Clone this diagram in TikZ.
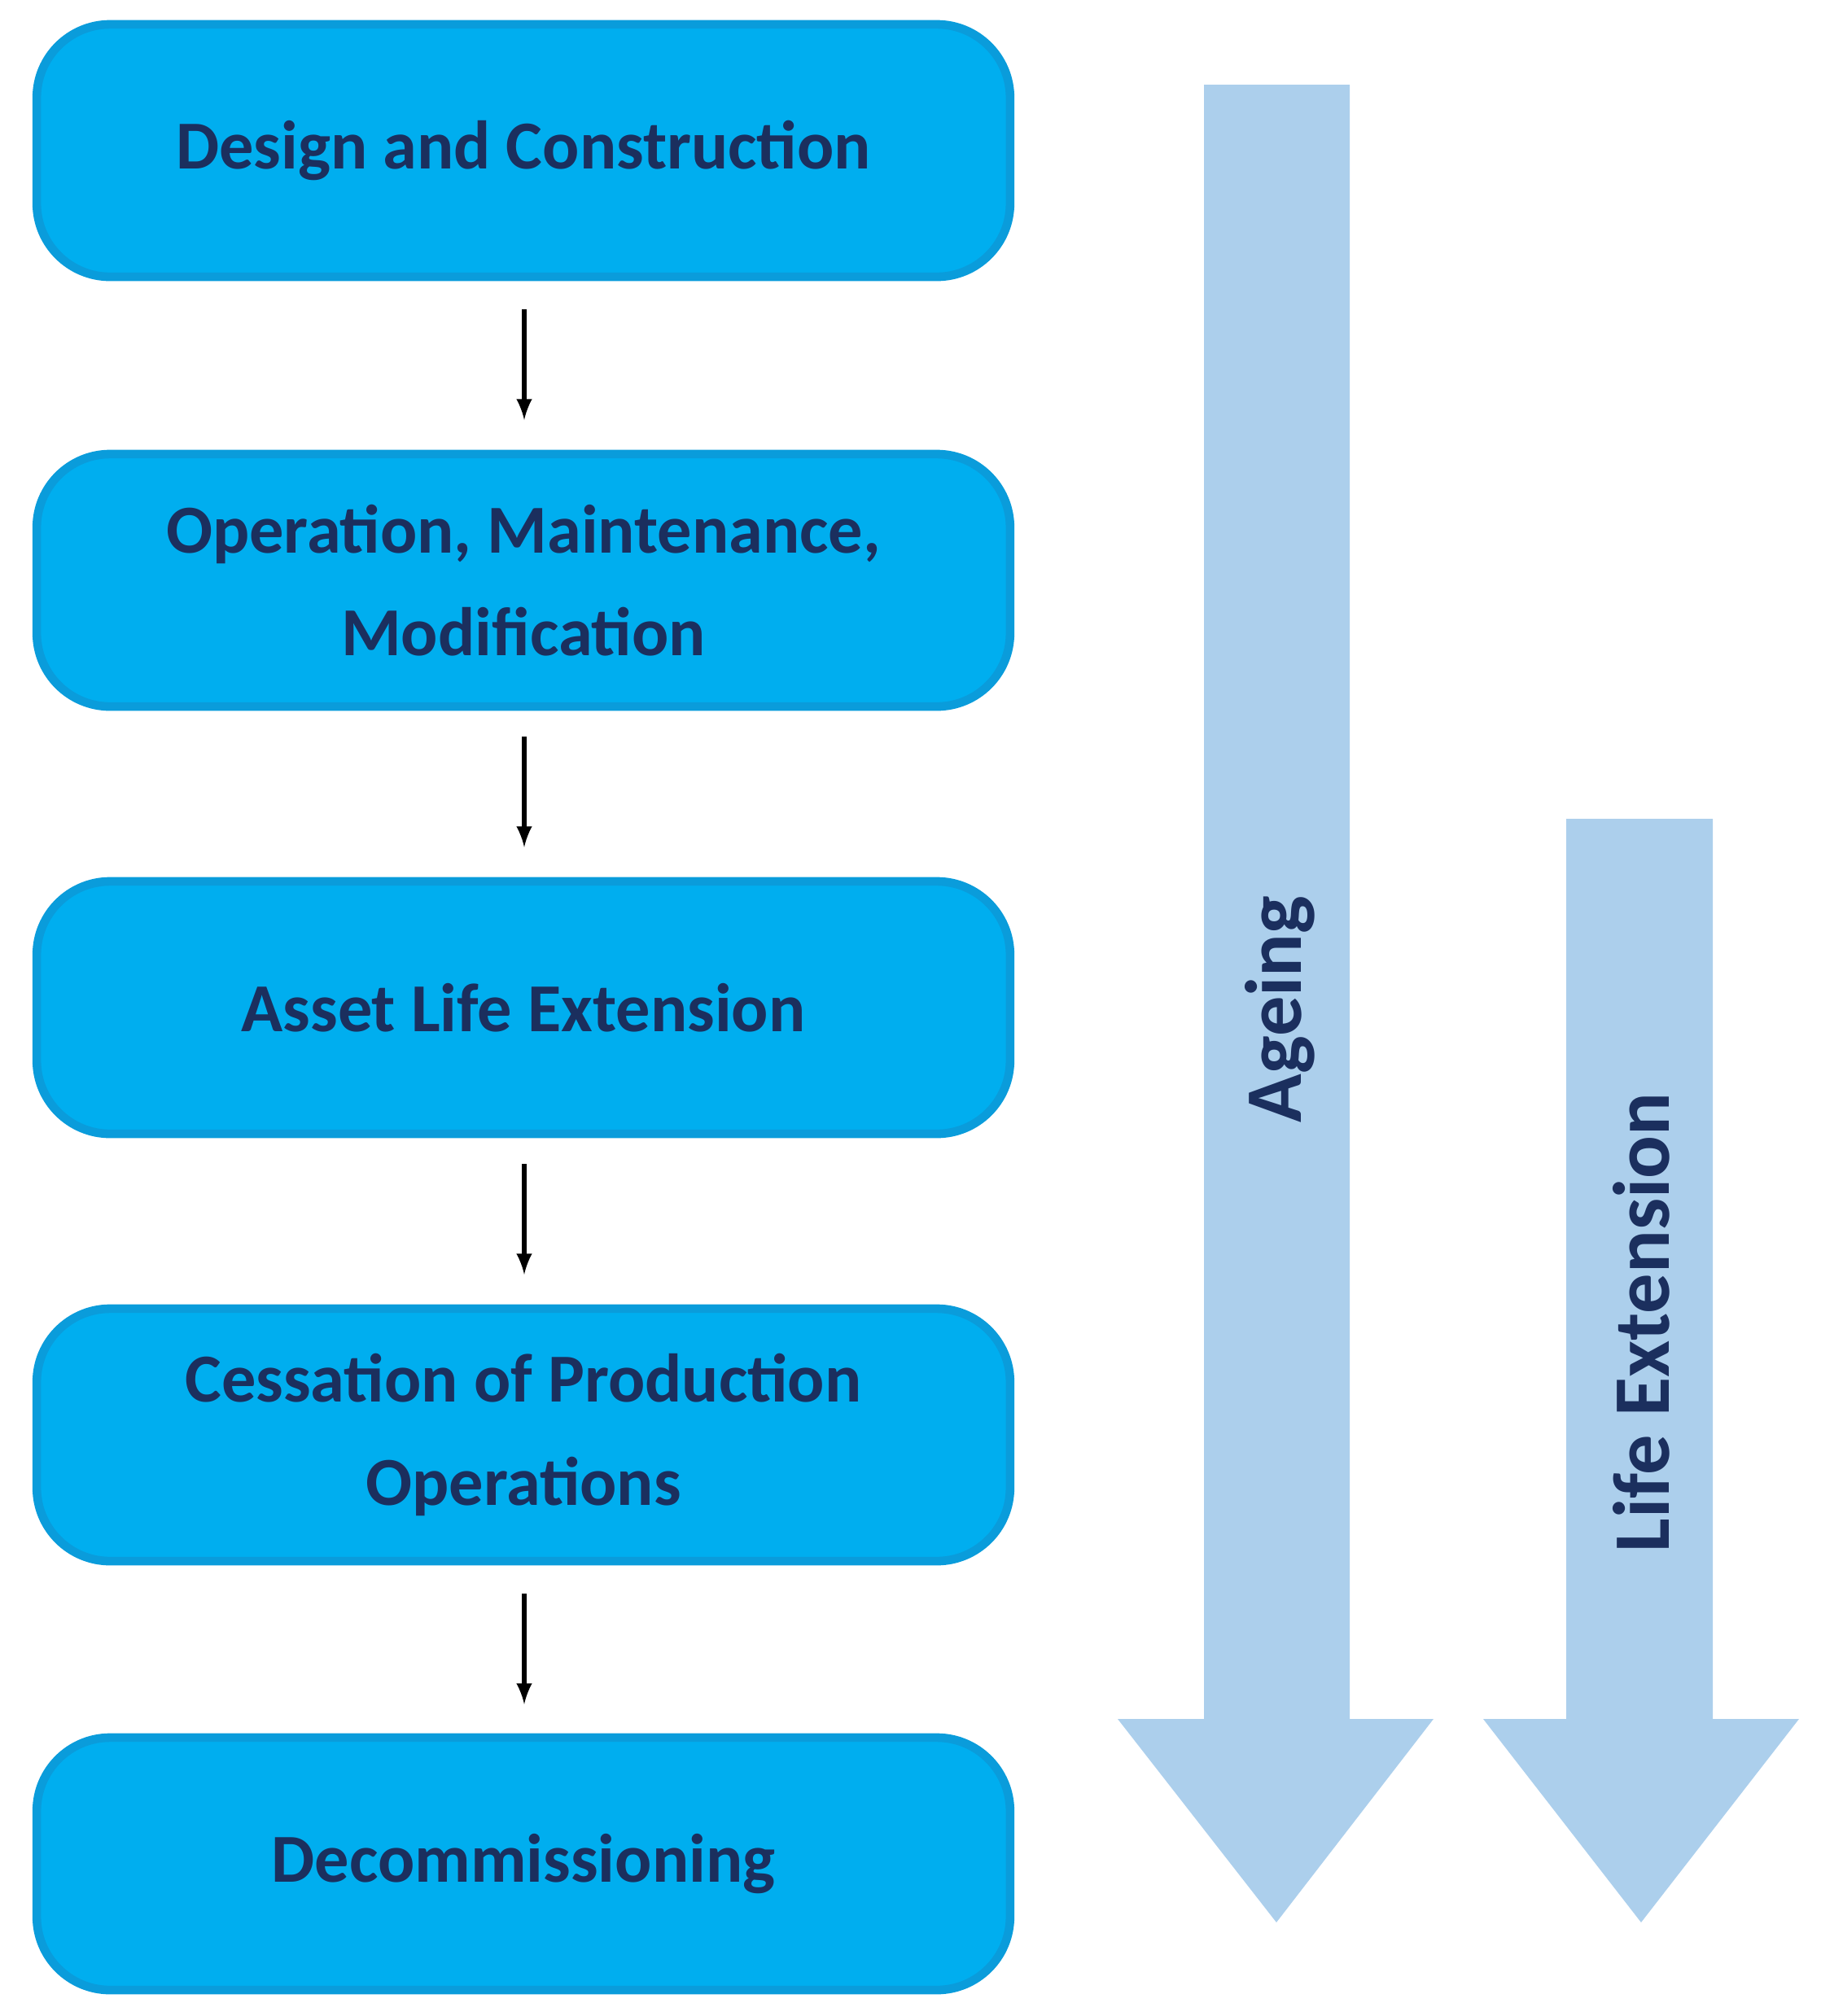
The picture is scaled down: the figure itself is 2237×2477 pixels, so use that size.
\documentclass[tikz,border=0pt]{standalone}
\usepackage{fontspec}
\setmainfont{Carlito}
\begin{document}
\begin{tikzpicture}[x=0.01cm,y=-0.01cm,
  box/.style={draw=boxedge,line width=3pt,fill=boxfill,rounded corners=0.9cm,minimum width=11.95cm,minimum height=3.1cm,align=center,font=\fontsize{24}{36}\selectfont\bfseries,text=navy},
  conn/.style={-latex,line width=1.5pt},
  big/.style={fill=lightarrow}]
\definecolor{boxfill}{HTML}{00AEEF}
\definecolor{boxedge}{HTML}{0A9CDB}
\definecolor{navy}{HTML}{1B2F5E}
\definecolor{lightarrow}{HTML}{ACCFEC}
\useasboundingbox (0,0) rectangle (2237,2477);
\node[box] (b1) at (643,185) {Design and Construction};
\node[box] (b2) at (643,713) {Operation, Maintenance,\\Modification};
\node[box] (b3) at (643,1238) {Asset Life Extension};
\node[box] (b4) at (643,1763) {Cessation of Production\\Operations};
\node[box] (b5) at (643,2290) {Decommissioning};
\coordinate (s1) at (644,380); \coordinate (e1) at (644,516);
\coordinate (s2) at (644,905); \coordinate (e2) at (644,1041);
\coordinate (s3) at (644,1430); \coordinate (e3) at (644,1566);
\coordinate (s4) at (644,1958); \coordinate (e4) at (644,2094);
\draw[conn] (s1) -- (e1);
\draw[conn] (s2) -- (e2);
\draw[conn] (s3) -- (e3);
\draw[conn] (s4) -- (e4);
\fill[big] (1479,104) -- (1658,104) -- (1658,2112) -- (1761,2112) -- (1568,2362) -- (1373,2112) -- (1479,2112) -- cycle;
\fill[big] (1924,1006) -- (2104,1006) -- (2104,2112) -- (2210,2112) -- (2016,2362) -- (1822,2112) -- (1924,2112) -- cycle;
\node[rotate=90,font=\fontsize{28}{34}\selectfont\bfseries,text=navy] (ta) at (1572,1240) {Ageing};
\node[rotate=90,font=\fontsize{28}{34}\selectfont\bfseries,text=navy] (tl) at (2016,1625) {Life Extension};
\end{tikzpicture}
\end{document}
